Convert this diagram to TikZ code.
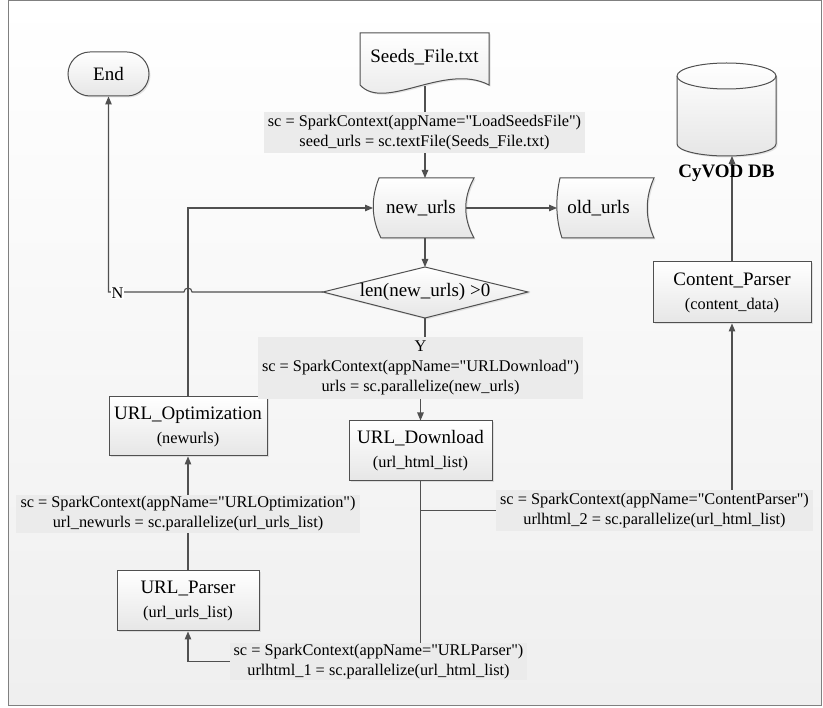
\documentclass[tikz,border=0pt]{standalone}
\usepackage{fontspec}
\setmainfont{Liberation Serif}[Ligatures=TeXOff]
\usetikzlibrary{arrows.meta,shadows,calc}
\definecolor{ln}{HTML}{505050}
\definecolor{labfill}{HTML}{EBEBEB}
\definecolor{boxbot}{HTML}{E6E6E6}
\definecolor{bgbot}{HTML}{EFEFEF}
\newcommand{\mainsz}{\fontsize{19}{24}\selectfont}
\newcommand{\codesz}{\fontsize{16.3}{20}\selectfont}
\begin{document}
\begin{tikzpicture}[x=1pt,y=-1pt,
  conn/.style={draw=ln, line width=1.1pt},
  arr/.style={conn,-{Triangle[length=8pt,width=6.5pt]}},
  shapefill/.style={draw=ln, line width=1pt, top color=white, bottom color=boxbot,
    drop shadow={shadow xshift=1.5pt,shadow yshift=-1.5pt,opacity=0.2}},
  procbox/.style={shapefill, rectangle, inner sep=0pt, align=center, font=\mainsz},
  codelab/.style={fill=labfill, inner sep=0pt, align=center, font=\codesz},
  plain/.style={inner sep=0pt, font=\mainsz, align=center},
]
% canvas
\path[use as bounding box] (0,0) rectangle (823,708);
\path[top color=white, bottom color=bgbot] (8,1) rectangle (821,705);
\draw[draw=gray, line width=1pt] (8,1) rectangle (821,705);

% Seeds file (document shape)
\path[shapefill] (360,33) -- (489,33) -- (489,85) .. controls (445,62) and (385,112) .. (360,85) -- cycle;
\node[plain] (seeds) at (424.5,57) {Seeds\_File.txt};
\coordinate (seedsB) at (425,86);

% new_urls (stored data)
\path[shapefill] (379,178) -- (474,178) .. controls (463,198) and (463,218) .. (474,238)
  -- (381,238) .. controls (371,218) and (371,198) .. (379,178) -- cycle;
\node[plain] (nu) at (421,208) {new\_urls};
\coordinate (nuT) at (425,178);
\coordinate (nuB) at (425,238);
\coordinate (nuL) at (373,208);
\coordinate (nuR) at (466,208);

% old_urls (stored data)
\path[shapefill] (560,178) -- (654,178) .. controls (645,198) and (645,218) .. (654,238)
  -- (562,238) .. controls (555.5,218) and (555.5,198) .. (560,178) -- cycle;
\node[plain] (ou) at (598.5,208) {old\_urls};
\coordinate (ouL) at (557,208);

% decision
\coordinate (decL) at (323,292);
\coordinate (decT) at (425,267);
\coordinate (decR) at (528,292);
\coordinate (decB) at (425,318);
\path[shapefill] (decL) -- (decT) -- (decR) -- (decB) -- cycle;
\node[plain] (dec) at (425,292) {len(new\_urls) >0};

% End
\node[procbox, rounded corners=22pt, minimum width=81pt, minimum height=44pt] (end) at (108.5,74) {End};

% database
\path[shapefill] (677,76) -- (677,144) arc[start angle=180,end angle=360,x radius=49.5pt,y radius=12pt]
  -- (776,76) arc[start angle=0,end angle=180,x radius=49.5pt,y radius=13pt] -- cycle;
\draw[draw=ln, line width=1pt] (677,76) arc[start angle=180,end angle=360,x radius=49.5pt,y radius=13pt];
\coordinate (dbB) at (732,156);

% process boxes
\node[procbox, minimum width=158pt, minimum height=61pt] (cp) at (732,292.5) {Content\_Parser\\{\codesz (content\_data)}};
\node[procbox, minimum width=143pt, minimum height=60pt] (ud) at (420.5,451) {URL\_Download\\{\codesz (url\_html\_list)}};
\node[procbox, minimum width=158pt, minimum height=59pt] (uo) at (188,426.5) {URL\_Optimization\\{\codesz (newurls)}};
\node[procbox, minimum width=142pt, minimum height=60pt] (up) at (188,601) {URL\_Parser\\{\codesz (url\_urls\_list)}};

% connectors
\coordinate (yj) at (420.5,368);
\coordinate (cpj) at (732,510.5);
\coordinate (upj) at (420.5,661.5);
\draw[arr] (seedsB) -- (nuT);
\draw[arr] (nuR) -- (ouL);
\draw[arr] (nuB) -- (decT);
\draw[arr] (decL) -- (192,292) arc[start angle=0,end angle=180,radius=4pt] -- (108.5,292) -- (end.south);
\draw[arr] (uo.north) |- (nuL);
\draw[arr] (decB) |- (yj) -- (ud.north);
\draw[arr] (ud.south) |- (cpj) -- (cp.south);
\draw[arr] (ud.south) -- (upj) -| (up.south);
\draw[arr] (up.north) -- (uo.south);
\draw[arr] (cp.north) -- (dbB);

% texts over lines
\node[plain, font=\mainsz\bfseries] (db) at (726.5,173) {CyVOD DB};
\node[fill=white, inner sep=0.8pt, font=\codesz] (nlab) at (117.5,293) {N};

\node[codelab, minimum width=321pt, minimum height=41pt] (ls) at (424.5,132.5)
  {sc = SparkContext(appName="LoadSeedsFile")\\seed\_urls = sc.textFile(Seeds\_File.txt)};
\node[codelab, minimum width=325pt, minimum height=62pt] (ydl) at (420.5,368)
  {Y\\sc = SparkContext(appName="URLDownload")\\urls = sc.parallelize(new\_urls)};
\node[codelab, minimum width=344pt, minimum height=38pt] (uol) at (188,514)
  {sc = SparkContext(appName="URLOptimization")\\url\_newurls = sc.parallelize(url\_urls\_list)};
\node[codelab, minimum width=317pt, minimum height=41pt] (cpl) at (654.5,510.5)
  {sc = SparkContext(appName="ContentParser")\\urlhtml\_2 = sc.parallelize(url\_html\_list)};
\node[codelab, minimum width=297pt, minimum height=37pt] (upl) at (378.5,661.5)
  {sc = SparkContext(appName="URLParser")\\urlhtml\_1 = sc.parallelize(url\_html\_list)};
\end{tikzpicture}
\end{document}
